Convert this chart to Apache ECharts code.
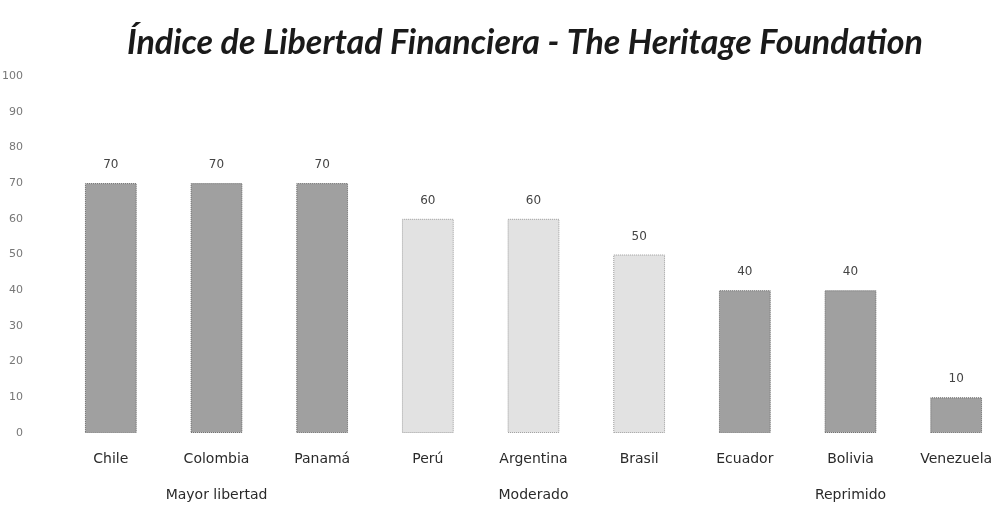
<!DOCTYPE html>
<html>
<head>
<meta charset="utf-8">
<script src="https://cdn.jsdelivr.net/npm/echarts@6/dist/echarts.min.js"></script>
<style>
html,body{margin:0;padding:0;background:#fff;}
#chart{width:1002px;height:508px;}
</style>
</head>
<body>
<div id="chart"></div>
<script>
// datos
var paises = ['Chile', 'Colombia', 'Panamá', 'Perú', 'Argentina', 'Brasil', 'Ecuador', 'Bolivia', 'Venezuela'];
var indice = [70, 70, 70, 60, 60, 50, 40, 40, 10];
var grupoPais = ['Mayor libertad', 'Mayor libertad', 'Mayor libertad', 'Moderado', 'Moderado', 'Moderado', 'Reprimido', 'Reprimido', 'Reprimido'];
var grupos = ['', 'Mayor libertad', '', '', 'Moderado', '', '', 'Reprimido', ''];
var ejeY = [0, 100, 10];

// colores por grupo
var colorGrupo = {
    'Mayor libertad': {fill: '#a0a0a0', border: '#666'},
    'Moderado': {fill: '#e2e2e2', border: '#9a9a9a'},
    'Reprimido': {fill: '#a0a0a0', border: '#666'}
};

function $each(arr, fn){
    for (var i = 0; i < arr.length; i++) fn(i, arr[i]);
}

function chartBar(id){
    var myChart = echarts.init(document.getElementById(id));
    var data = [];
    $each(indice, function(i, v){
        var c = colorGrupo[grupoPais[i]];
        data.push({
            value: v,
            itemStyle: {color: c.fill, borderColor: c.border, borderWidth: 1, borderType: 'dotted'}
        });
    });
    var option = {
        animation: false,
        title: {
            text: 'Índice de Libertad Financiera - The Heritage Foundation',
            left: 520,
            top: 21,
            textAlign: 'center',
            textStyle: {
                fontFamily: 'Lato',
                fontStyle: 'italic',
                fontWeight: 'bold',
                fontSize: 34,
                color: '#1a1a1a'
            }
        },
        grid: {
            left: 58,
            right: -7,
            top: 76,
            bottom: 75,
            containLabel: false,
            outerBoundsMode: 'none'
        },
        xAxis: [
            {
                type: 'category',
                data: paises,
                axisLine: {show: false},
                axisTick: {show: false},
                axisLabel: {
                    margin: 19,
                    interval: 0,
                    fontFamily: 'DejaVu Sans',
                    fontSize: 14,
                    color: '#2a2a2a'
                }
            },
            {
                type: 'category',
                data: grupos,
                position: 'bottom',
                offset: 36,
                axisLine: {show: false},
                axisTick: {show: false},
                axisLabel: {
                    margin: 19,
                    interval: 0,
                    fontFamily: 'DejaVu Sans',
                    fontSize: 14,
                    color: '#2a2a2a'
                }
            }
        ],
        yAxis: {
            type: 'value',
            min: ejeY[0],
            max: ejeY[1],
            interval: ejeY[2],
            axisLine: {show: false},
            axisTick: {show: false},
            splitLine: {show: false},
            axisLabel: {
                margin: 35,
                fontFamily: 'DejaVu Sans',
                fontSize: 11,
                color: '#777'
            }
        },
        series: [
            {
                name: '',
                type: 'bar',
                barWidth: '49%',
                data: data,
                label: {
                    show: true,
                    position: 'top',
                    distance: 12,
                    fontFamily: 'DejaVu Sans',
                    fontSize: 12,
                    color: '#444'
                }
            }
        ]
    };

    myChart.setOption(option);

    return myChart;
}

chartBar('chart');
</script>
</body>
</html>
